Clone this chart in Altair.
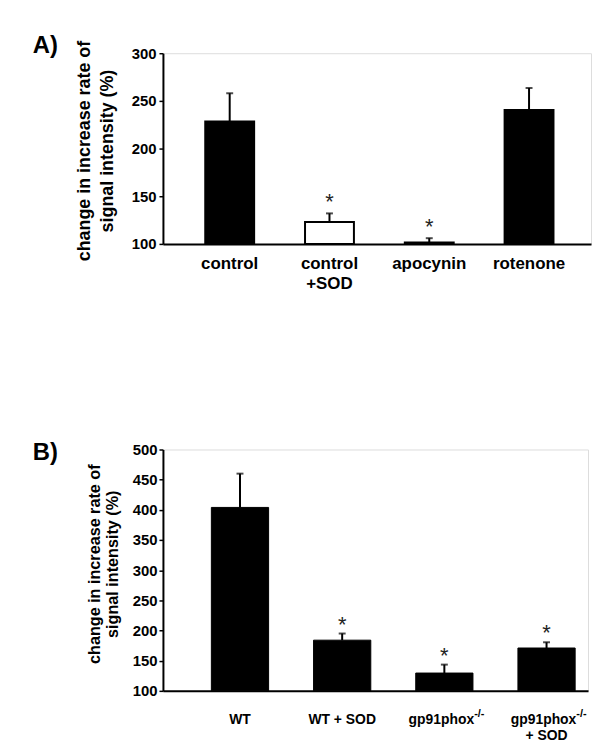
import altair as alt
import pandas as pd

FONT = "Liberation Sans"

# ---------------- Panel A data ----------------
a_categories = ["control", "control\n+SOD", "apocynin", "rotenone"]
a_means = [228.5, 123, 101.5, 240.5]
a_errors = [29.5, 9, 4.5, 23]
a_fills = ["black", "white", "black", "black"]
a_signif = ["", "*", "*", ""]
a_ticks = [100, 150, 200, 250, 300]

# ---------------- Panel B data ----------------
b_categories = ["WT", "WT + SOD", "gp91phox-/-", "gp91phox-/- + SOD"]
b_means = [404, 184, 129.5, 171]
b_errors = [56, 11, 14, 9.5]
b_signif = ["", "*", "*", "*"]
b_ticks = [100, 150, 200, 250, 300, 350, 400, 450, 500]
b_label_main = ["WT", "WT + SOD", "", ""]
b_label_base = ["", "", "gp91phox", "gp91phox"]
b_label_sup = ["", "", "-/-", "-/-"]
b_label_line2 = ["", "", "", "+ SOD"]

y_title = ["change in increase rate of", "signal intensity (%)"]

dfa = pd.DataFrame({
    "cat": a_categories, "mean": a_means, "err": a_errors,
    "fill": a_fills, "sig": a_signif,
})
dfa["top"] = dfa["mean"] + dfa["err"]
dfa["base"] = a_ticks[0]

dfb = pd.DataFrame({
    "cat": b_categories, "mean": b_means, "err": b_errors, "sig": b_signif,
    "main": b_label_main, "gbase": b_label_base, "sup": b_label_sup,
    "line2": b_label_line2,
})
dfb["top"] = dfb["mean"] + dfb["err"]
dfb["base"] = b_ticks[0]

# ---------------- Panel A ----------------
WA, HA = 431, 192
xa = alt.X("cat:N", sort=a_categories,
           scale=alt.Scale(paddingInner=0.51, paddingOuter=0.40, align=0.53),
           axis=alt.Axis(title=None, ticks=False, domainColor="black", domainWidth=2,
                         labelFont=FONT, labelFontWeight="bold", labelFontSize=17,
                         labelColor="black", labelAngle=0, labelPadding=12,
                         labelLineHeight=20,
                         labelExpr="split(datum.value, '\\n')"))
ya_axis = alt.Axis(values=a_ticks, grid=False, domainColor="black", domainWidth=2,
                   tickColor="black", tickWidth=1.5, tickSize=4,
                   labelFont=FONT, labelFontWeight="bold", labelFontSize=15,
                   labelColor="black", labelPadding=3, labelOverlap=False,
                   title=y_title, titleFont=FONT, titleFontWeight="bold",
                   titleFontSize=18, titleColor="black", titleLineHeight=23,
                   titleX=-79, titleY=98, titleAngle=-90,
                   titleAlign="center", titleBaseline="middle")
ya_scale = alt.Scale(domain=[a_ticks[0], a_ticks[-1]], zero=False, nice=False)
xap = alt.X("cat:N", sort=a_categories)

base_a = alt.Chart(dfa)
bars_a = base_a.mark_bar(stroke="black", strokeWidth=2).encode(
    x=xa, y=alt.Y("mean:Q", scale=ya_scale, axis=ya_axis), y2="base:Q",
    fill=alt.Fill("fill:N", scale=None),
)
err_a = base_a.mark_rule(color="black", strokeWidth=2).encode(
    x=xap, y=alt.Y("mean:Q", scale=ya_scale, axis=ya_axis), y2="top:Q")
cap_a = base_a.mark_tick(color="black", size=7, thickness=2).encode(
    x=xap, y=alt.Y("top:Q", scale=ya_scale, axis=ya_axis))
star_a = base_a.mark_text(fontSize=22, font=FONT, color="#222", dy=-11,
                          baseline="middle").encode(
    x=xap, y=alt.Y("top:Q", scale=ya_scale, axis=ya_axis), text="sig:N")
lab_a = alt.Chart(alt.Data(values=[{"t": "A)"}])).mark_text(
    fontSize=24, fontWeight="bold", font=FONT, align="left", baseline="middle",
    color="black").encode(x=alt.value(-131), y=alt.value(-7), text="t:N")

chart_a = alt.layer(bars_a, err_a, cap_a, star_a, lab_a).properties(width=WA, height=HA)

# ---------------- Panel B ----------------
WB, HB = 428, 243
xb_scale = alt.Scale(paddingInner=0.44, paddingOuter=0.30, align=0.79)
xb = alt.X("cat:N", sort=b_categories, scale=xb_scale,
           axis=alt.Axis(title=None, ticks=False, labels=False,
                         domainColor="black", domainWidth=2))
yb_axis = alt.Axis(values=b_ticks, grid=False, domainColor="black", domainWidth=2,
                   tickColor="black", tickWidth=1.5, tickSize=4,
                   labelFont=FONT, labelFontWeight="bold", labelFontSize=15,
                   labelColor="black", labelPadding=2, labelOverlap=False,
                   title=y_title, titleFont=FONT, titleFontWeight="bold",
                   titleFontSize=16.3, titleColor="black", titleLineHeight=18,
                   titleX=-69, titleY=115, titleAngle=-90,
                   titleAlign="center", titleBaseline="middle")
yb_scale = alt.Scale(domain=[b_ticks[0], b_ticks[-1]], zero=False, nice=False)

xbp = alt.X("cat:N", sort=b_categories)
base_b = alt.Chart(dfb)
bars_b = base_b.mark_bar(color="black", stroke="black", strokeWidth=1).encode(
    x=xb, y=alt.Y("mean:Q", scale=yb_scale, axis=yb_axis), y2="base:Q")
err_b = base_b.mark_rule(color="black", strokeWidth=2).encode(
    x=xbp, y=alt.Y("mean:Q", scale=yb_scale, axis=yb_axis), y2="top:Q")
cap_b = base_b.mark_tick(color="black", size=7, thickness=2).encode(
    x=xbp, y=alt.Y("top:Q", scale=yb_scale, axis=yb_axis))
star_b = base_b.mark_text(fontSize=22, font=FONT, color="#222", dy=-9,
                          baseline="middle").encode(
    x=xbp, y=alt.Y("top:Q", scale=yb_scale, axis=yb_axis), text="sig:N")
txt = dict(font=FONT, fontWeight="bold", fontSize=14, color="black", baseline="middle")
main_b = base_b.mark_text(align="center", **txt).encode(
    x=xbp, y=alt.value(HB + 29), text="main:N")
gbase_b = base_b.mark_text(align="right", dx=30, **txt).encode(
    x=xbp, y=alt.value(HB + 29), text="gbase:N")
sup_b = base_b.mark_text(align="left", dx=30, dy=-6, font=FONT, fontWeight="bold",
                         fontSize=11, color="black", baseline="middle").encode(
    x=xbp, y=alt.value(HB + 29), text="sup:N")
line2_b = base_b.mark_text(align="center", **txt).encode(
    x=xbp, y=alt.value(HB + 45), text="line2:N")
lab_b = alt.Chart(alt.Data(values=[{"t": "B)"}])).mark_text(
    fontSize=24, fontWeight="bold", font=FONT, align="left", baseline="middle",
    color="black").encode(x=alt.value(-131), y=alt.value(4), text="t:N")

chart_b = alt.layer(bars_b, err_b, cap_b, star_b, main_b, gbase_b, sup_b, line2_b,
                    lab_b).properties(width=WB, height=HB)

chart = alt.vconcat(chart_a, chart_b, spacing=149).properties(
    padding={"left": 24, "top": 23, "right": 0, "bottom": 0}
).configure_view(stroke=None).configure(font=FONT)

chart.save("out.html", embed_options={"renderer": "svg", "actions": False})
